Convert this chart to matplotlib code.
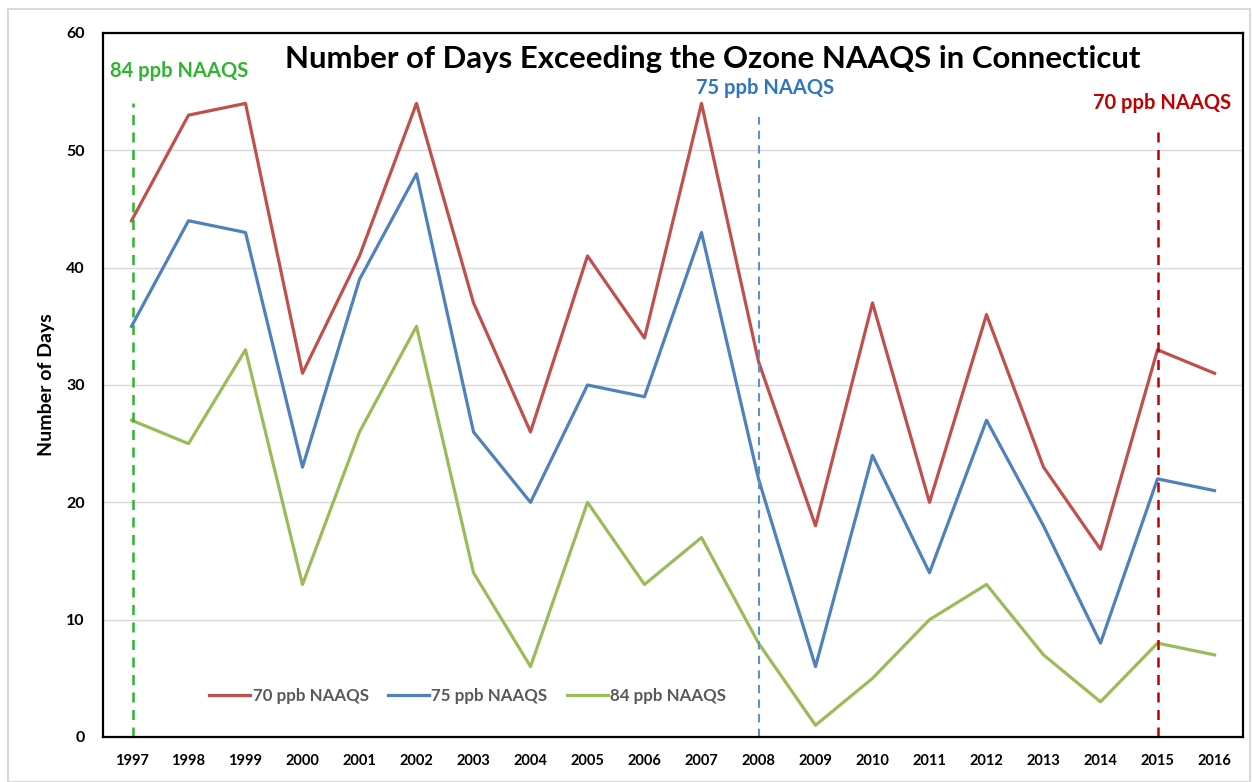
import numpy as np
import matplotlib
matplotlib.use("Agg")
import matplotlib.pyplot as plt
from matplotlib.patches import Rectangle

plt.rcParams['font.family'] = ['Lato', 'DejaVu Sans']

# data
years = list(range(1997, 2017))
days_70 = [44, 53, 54, 31, 41, 54, 37, 26, 41, 34, 54, 32, 18, 37, 20, 36, 23, 16, 33, 31]
days_75 = [35, 44, 43, 23, 39, 48, 26, 20, 30, 29, 43, 22, 6, 24, 14, 27, 18, 8, 22, 21]
days_84 = [27, 25, 33, 13, 26, 35, 14, 6, 20, 13, 17, 8, 1, 5, 10, 13, 7, 3, 8, 7]

# standard change markers: year, top of dashed line, label
std_years = [1997.03, 2008.0, 2015.0]
std_tops = [54, 52.8, 52]
std_labels = ['84 ppb NAAQS', '75 ppb NAAQS', '70 ppb NAAQS']
std_colors = ['#2DB52D', '#2E75C6', '#C00000']
std_line_colors = ['#2DB52D', '#5B8FD6', '#C00000']
std_label_y = [56.8, 55.3, 54.0]
std_label_x = [1996.62, 2006.9, 2013.87]

fig = plt.figure(figsize=(12.52, 7.82), dpi=100)
ax = fig.add_axes([103 / 1252, 1 - 737 / 782, 1140 / 1252, 704 / 782])

# light grey outer frame
fig.patches.append(Rectangle((8 / 1252, 0.0), 1242 / 1252, 1 - 9 / 782,
                             transform=fig.transFigure, fill=False,
                             edgecolor='#D9D9D9', linewidth=1.5))

ax.plot(years, days_70, color='#C0504D', lw=2.3, label='70 ppb NAAQS')
ax.plot(years, days_75, color='#4F81BD', lw=2.3, label='75 ppb NAAQS')
ax.plot(years, days_84, color='#9BBB59', lw=2.3, label='84 ppb NAAQS')

for x, top, c in zip(std_years, std_tops, std_line_colors):
    ax.plot([x, x], [0, top], color=c, lw=1.8 if c != '#5B8FD6' else 1.5,
            linestyle=(0, (4, 3)))

for lab, x, y, c in zip(std_labels, std_label_x, std_label_y, std_colors):
    ax.text(x, y, lab, color=c, fontsize=14.5, fontweight='bold', va='center', ha='left')

ax.set_xlim(1996.5, 2016.5)
ax.set_ylim(0, 60)
ax.set_xticks(years)
ax.set_xticklabels([str(y) for y in years])
ax.set_yticks(range(0, 61, 10))
ax.tick_params(axis='x', length=0, labelsize=10.5, pad=12)
ax.tick_params(axis='y', length=0, labelsize=11.5, pad=13)
for t in ax.get_xticklabels() + ax.get_yticklabels():
    t.set_fontweight('bold')
ax.grid(axis='y', color='#D9D9D9', lw=1)
ax.set_axisbelow(True)
for s in ax.spines.values():
    s.set_color('black')
    s.set_linewidth(1.6)

ax.set_ylabel('Number of Days', fontsize=14, fontweight='bold', labelpad=8)
ax.text(0.535, 0.963, 'Number of Days Exceeding the Ozone NAAQS in Connecticut',
        transform=ax.transAxes, ha='center', va='center', fontsize=22.4, fontweight='bold')

leg = ax.legend(loc='lower left', bbox_to_anchor=(0.08, 0.025), ncol=3, frameon=False,
                fontsize=12.2, handlelength=2.4, handletextpad=0.15, columnspacing=1.15)
for t in leg.get_texts():
    t.set_color('#595959')
    t.set_fontweight('bold')

fig.savefig('out.png', dpi=100)
